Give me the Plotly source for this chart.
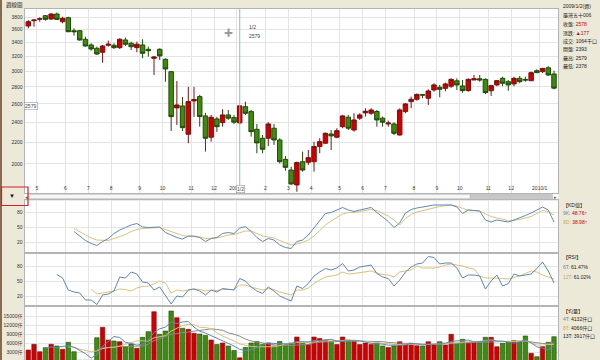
import math
import plotly.graph_objects as go

# ---------------- data (weekly, 2008/4/18 .. 2010/1/22) ----------------
opens = [3654, 3739, 3763, 3822, 3767, 3850, 3723, 3788, 3579, 3579,
         3448, 3363, 3315, 3258, 3359, 3359, 3324, 3437, 3388, 3324,
         3363, 3300, 3173, 3300, 3159, 2993, 2555, 2577, 2277, 2634,
         2684, 2467, 2248, 2435, 2396, 2478, 2449, 2393, 2569, 2514,
         2327, 2238, 2238, 2338, 2221, 2041, 1948, 1825, 2020, 2015,
         2020, 2158, 2190, 2280, 2248, 2354, 2453, 2320, 2443, 2500,
         2496, 2515, 2443, 2382, 2382, 2270, 2514, 2626, 2653, 2708,
         2665, 2763, 2796, 2783, 2809, 2876, 2812, 2755, 2886, 2902,
         2894, 2754, 2825, 2907, 2865, 2837, 2907, 2894, 2877, 3006,
         2993, 3044, 2963]
highs = [3750, 3761, 3795, 3833, 3862, 3872, 3805, 3805, 3618, 3590,
         3487, 3388, 3339, 3363, 3427, 3388, 3463, 3472, 3412, 3412,
         3448, 3339, 3206, 3315, 3173, 3002, 2874, 2680, 2800, 2800,
         2704, 2500, 2478, 2457, 2540, 2532, 2478, 2579, 2626, 2532,
         2382, 2270, 2400, 2382, 2238, 2071, 1977, 2021, 2111, 2126,
         2205, 2238, 2294, 2320, 2338, 2478, 2478, 2496, 2496, 2551,
         2551, 2532, 2460, 2417, 2400, 2551, 2608, 2684, 2722, 2710,
         2771, 2846, 2825, 2853, 2907, 2907, 2886, 2907, 2950, 2950,
         2907, 2825, 2886, 2928, 2886, 2928, 2937, 2928, 2993, 3024,
         3044, 3066, 3006]
lows = [3617, 3643, 3723, 3739, 3750, 3750, 3697, 3555, 3503, 3427,
        3338, 3280, 3219, 3113, 3339, 3305, 3305, 3348, 3290, 3258,
        3173, 3196, 2950, 3149, 2865, 2310, 2372, 2310, 2190, 2457,
        2354, 2111, 2205, 2301, 2354, 2424, 2382, 2378, 2478, 2254,
        2096, 2096, 2164, 2174, 2006, 1942, 1825, 1772, 1934, 1992,
        1934, 2096, 2185, 2126, 2238, 2338, 2320, 2303, 2424, 2460,
        2478, 2354, 2354, 2354, 2270, 2265, 2496, 2552, 2637, 2665,
        2588, 2743, 2677, 2747, 2788, 2763, 2730, 2743, 2886, 2865,
        2714, 2692, 2809, 2809, 2754, 2809, 2845, 2865, 2874, 2975,
        2975, 2937, 2771]
closes = [3723, 3750, 3770, 3761, 3850, 3761, 3778, 3564, 3564, 3437,
          3348, 3305, 3233, 3348, 3374, 3324, 3448, 3374, 3338, 3374,
          3243, 3280, 3191, 3206, 3028, 2460, 2588, 2344, 2626, 2651,
          2460, 2238, 2453, 2354, 2478, 2443, 2401, 2578, 2496, 2303,
          2193, 2133, 2382, 2221, 2020, 1971, 1833, 2012, 1948, 2056,
          2158, 2205, 2287, 2261, 2313, 2467, 2338, 2424, 2478, 2518,
          2532, 2424, 2400, 2392, 2287, 2532, 2600, 2653, 2710, 2702,
          2751, 2825, 2771, 2837, 2894, 2824, 2755, 2894, 2902, 2886,
          2731, 2816, 2878, 2845, 2825, 2907, 2865, 2886, 2980, 2980,
          3036, 2950, 2785]
volumes = [3667, 5567, 3100, 4433, 5567, 5000, 3900, 6233, 3100, 250,
           250, 250, 7767, 11233, 7000, 6667, 6433, 4767, 5667, 4233,
           7900, 9767, 16433, 8900, 10000, 16667, 14433, 10900, 10567, 9233,
           9000, 8500, 7000, 5500, 6000, 5000, 3500, 1064, 4500, 6000,
           6500, 5500, 6000, 5000, 6500, 5500, 6000, 8000, 6000, 5500,
           8000, 7500, 7000, 6500, 5500, 8000, 7000, 6500, 5500, 6000,
           5500, 6000, 5000, 4500, 5000, 6433, 5567, 5900, 5100, 5000,
           6433, 5567, 6433, 5333, 8900, 5900, 7233, 5900, 6433, 6100,
           7900, 7900, 4767, 5900, 6433, 6767, 6433, 8333, 2567, 1433,
           4767, 6233, 8100]

kd_start = 8
k9 = [42, 32, 24, 18, 14, 22, 28, 38, 45, 50, 55, 58, 51, 50, 50, 51, 40, 35, 30, 27,
      33, 33, 30, 22, 28, 30, 38, 40, 38, 49, 52, 42, 30, 22, 28, 25, 15, 10, 8, 22,
      25, 35, 50, 65, 78, 80, 85, 90, 85, 82, 85, 88, 90, 80, 70, 62, 50, 59, 79, 86,
      89, 91, 93, 95, 95, 95, 95, 91, 78, 85, 84, 83, 65, 61, 65, 63, 61, 65, 69, 74,
      79, 85, 91, 85, 61]
d9 = [48, 42, 35, 29, 25, 24, 24, 28, 32, 36, 42, 46, 48, 49, 50, 50, 46, 42, 37, 34,
      32, 32, 31, 28, 28, 29, 32, 35, 36, 39, 43, 43, 38, 33, 31, 29, 24, 19, 15, 17,
      20, 25, 33, 44, 55, 63, 70, 77, 80, 80, 82, 84, 86, 84, 79, 73, 65, 55, 68, 76,
      81, 84, 87, 89, 92, 94, 95, 93, 88, 85, 84, 83, 77, 72, 69, 67, 63, 64, 66, 69,
      72, 78, 84, 82, 75]

rsi6_start = 5
rsi6 = [63, 56, 32, 28, 26, 12, 12, 3, 22, 24, 30, 58, 56, 68, 64, 48, 46, 32, 38, 22,
        4, 20, 18, 32, 34, 30, 22, 32, 28, 35, 33, 32, 55, 50, 38, 30, 25, 38, 30, 20,
        15, 10, 40, 35, 45, 60, 68, 75, 72, 76, 85, 70, 72, 78, 80, 82, 65, 58, 55, 40,
        52, 68, 78, 84, 86, 99, 97, 84, 86, 86, 76, 56, 62, 62, 60, 34, 50, 62, 40, 45,
        64, 60, 62, 64, 75, 88, 70, 46]
rsi12_start = 11
rsi12 = [34, 24, 26, 28, 30, 34, 33, 30, 36, 39, 40, 44, 50, 46, 26, 32, 30, 32, 34, 33,
         30, 32, 31, 33, 33, 33, 42, 42, 38, 35, 32, 35, 33, 28, 25, 22, 32, 32, 36, 45,
         52, 58, 60, 62, 68, 64, 65, 67, 69, 70, 66, 63, 62, 58, 68, 70, 72, 80, 76, 76,
         76, 78, 82, 84, 82, 80, 76, 74, 60, 56, 56, 56, 55, 54, 57, 60, 65, 70, 68, 62,
         58, 54]

month_first_week = [2, 7, 11, 15, 20, 24, 29, 33, 37, 42, 46, 50, 55, 59, 63, 68, 72, 76, 81, 85, 90]
month_labels = ["5", "6", "7", "8", "9", "10", "11", "12", "2009/1", "2", "3", "4",
                "5", "6", "7", "8", "9", "10", "11", "12", "2010/1"]
price_ticks = [1800, 2000, 2200, 2400, 2600, 2800, 3000, 3200, 3400, 3600, 3800]
osc_ticks = [20, 50, 80]
vol_ticks = [3000, 6000, 9000, 12000, 15000]

cross_week = 37
cross_price = 2579

# ---------------- derived (moving averages of the volume) ----------------
def moving_avg(vals, n):
    out = [None] * len(vals)
    for i in range(n - 1, len(vals)):
        out[i] = sum(vals[i - n + 1:i + 1]) / n
    return out

vma4 = moving_avg(volumes, 4)
vma8 = moving_avg(volumes, 8)
vma13 = moving_avg(volumes, 13)

# ---------------- layout helpers ----------------
W, H = 600, 360
def px(x):
    return x / W
def py(y):
    return 1 - y / H

X0, X1 = 24.5, 558
MAIN = (9, 193)
KD = (200, 252)
RSI = (254, 305)
VOL = (307, 360)

n = len(closes)
xs = list(range(n))
tickpos = [w - 0.5 for w in month_first_week]
xrange_ = [-0.665, 92.7]

RED, RED_L = "#d10000", "#7a1010"
GRN, GRN_L = "#3d8c10", "#1f4a08"
BLUE, TAN, GRAY = "#5f88b2", "#d9c07c", "#8c8c8c"
GRID, FRAME = "#e4e4e4", "#b4b4b4"
FONT = "Liberation Sans, Noto Sans CJK TC, sans-serif"

fig = go.Figure()

fig.add_trace(go.Candlestick(
    x=xs, open=opens, high=highs, low=lows, close=closes,
    increasing=dict(fillcolor=RED, line=dict(color=RED_L, width=1)),
    decreasing=dict(fillcolor=GRN, line=dict(color=GRN_L, width=1)),
    whiskerwidth=0, xaxis="x", yaxis="y", showlegend=False, hoverinfo="skip"))

kx = xs[kd_start:kd_start + len(k9)]
fig.add_trace(go.Scatter(x=kx, y=d9, mode="lines", line=dict(color=TAN, width=1),
                         xaxis="x2", yaxis="y2", showlegend=False))
fig.add_trace(go.Scatter(x=kx, y=k9, mode="lines", line=dict(color=BLUE, width=1),
                         xaxis="x2", yaxis="y2", showlegend=False))

fig.add_trace(go.Scatter(x=xs[rsi12_start:rsi12_start + len(rsi12)], y=rsi12, mode="lines",
                         line=dict(color=TAN, width=1), xaxis="x3", yaxis="y3", showlegend=False))
fig.add_trace(go.Scatter(x=xs[rsi6_start:rsi6_start + len(rsi6)], y=rsi6, mode="lines",
                         line=dict(color=BLUE, width=1), xaxis="x3", yaxis="y3", showlegend=False))

vcol = [RED if c >= o else GRN for o, c in zip(opens, closes)]
vline = [RED_L if c >= o else GRN_L for o, c in zip(opens, closes)]
fig.add_trace(go.Bar(x=xs, y=volumes, marker=dict(color=vcol, line=dict(color=vline, width=0.6)),
                     width=0.78, xaxis="x4", yaxis="y4", showlegend=False))
fig.add_trace(go.Scatter(x=xs, y=vma13, mode="lines", line=dict(color=GRAY, width=1),
                         xaxis="x4", yaxis="y4", showlegend=False))
fig.add_trace(go.Scatter(x=xs, y=vma8, mode="lines", line=dict(color=TAN, width=1),
                         xaxis="x4", yaxis="y4", showlegend=False))
fig.add_trace(go.Scatter(x=xs, y=vma4, mode="lines", line=dict(color=BLUE, width=1),
                         xaxis="x4", yaxis="y4", showlegend=False))

def xax(show_labels, anchor):
    return dict(domain=[px(X0), px(X1)], range=xrange_, tickvals=tickpos,
                ticktext=month_labels, showgrid=True, gridcolor=GRID, gridwidth=1,
                zeroline=False, showline=True, linecolor=FRAME, mirror=True,
                ticks="", showticklabels=show_labels, anchor=anchor,
                rangeslider=dict(visible=False), fixedrange=True,
                tickfont=dict(size=5, color="#333", family=FONT))

def yax(dom, rng, tv, tt, typ="linear"):
    return dict(domain=[py(dom[1]), py(dom[0])], range=rng, type=typ, tickvals=tv,
                ticktext=tt, showgrid=True, gridcolor=GRID, gridwidth=1, zeroline=False,
                showline=True, linecolor=FRAME, mirror=True, ticks="", ticklen=0,
                tickfont=dict(size=5, color="#333", family=FONT), fixedrange=True)

main_top = 3800 * math.exp(8 / 229)
main_bot = 3800 * math.exp(-176 / 229)

layout = dict(
    width=W, height=H, margin=dict(l=0, r=0, t=0, b=0),
    paper_bgcolor="#ece9d8", plot_bgcolor="white", showlegend=False,
    bargap=0.2, boxgap=0.22, boxgroupgap=0, hovermode=False,
    xaxis=dict(xax(True, "y"), ticklabelposition="inside"),
    xaxis2=dict(xax(False, "y2"), matches="x"),
    xaxis3=dict(xax(False, "y3"), matches="x"),
    xaxis4=dict(xax(False, "y4"), matches="x"),
    yaxis=yax(MAIN, [math.log10(main_bot), math.log10(main_top)], price_ticks,
              [str(v) for v in price_ticks], "log"),
    yaxis2=yax(KD, [1, 105], osc_ticks, [str(v) for v in osc_ticks]),
    yaxis3=yax(RSI, [2, 104], osc_ticks, [str(v) for v in osc_ticks]),
    yaxis4=yax(VOL, [333, 18000], vol_ticks, [f"{v}仟" for v in vol_ticks]),
)
fig.update_layout(**layout)

shapes = []
def rect(x0, y0, x1, y1, fill, line=None, lw=0, layer="below"):
    shapes.append(dict(type="rect", xref="paper", yref="paper", x0=px(x0), x1=px(x1),
                       y0=py(y1), y1=py(y0), fillcolor=fill,
                       line=dict(color=line or fill, width=lw), layer=layer))

rect(X0, MAIN[0], X1, 360, "white")
rect(X0, 252, X1, 254, "#e2e2e2")
rect(X0, 305, X1, 307, "#e2e2e2")
rect(X0, 199.5, X1, 200.5, "#d8d8d8")
rect(29, 194.3, 552.5, 198.8, "#f7f7f7", "#bcbcbc", 0.8, "above")
rect(470, 194.8, 551.5, 198.3, "#c8c8c8", "#b4b4b4", 0.5, "above")
rect(0, 0, 2, 360, "#8a6a4e", layer="above")
rect(1.5, 187, 28, 205.5, "rgba(0,0,0,0)", "#d42020", 1.2, "above")

shapes.append(dict(type="line", xref="x", yref="paper", x0=cross_week, x1=cross_week,
                   y0=py(MAIN[1]), y1=py(MAIN[0]), line=dict(color="#8fbccd", width=1)))
shapes.append(dict(type="line", xref="paper", yref="y", x0=px(X0), x1=px(X1),
                   y0=math.log10(cross_price), y1=math.log10(cross_price),
                   line=dict(color="#8fbccd", width=1)))
fig.update_layout(shapes=shapes)

ann = []
def text(x, y, s, size=5, color="#222", anchor="left", **kw):
    ann.append(dict(xref="paper", yref="paper", x=px(x), y=py(y), text=s, showarrow=False,
                    xanchor=anchor, yanchor="middle", font=dict(size=size, color=color, family=FONT),
                    **kw))

text(4, 5, "週線圖", size=5.5)
text(560.5, 6.5, "2009/1/2(週)")
text(560.5, 15.5, "臺灣五十006")
text(560.5, 24.5, "收盤: <span style='color:#c00000'>2578</span>")
text(560.5, 33.3, "漲跌: <span style='color:#c00000'>▲177</span>")
text(560.5, 41.7, "成交: 1064千口")
text(560.5, 50, "開盤: 2393")
text(560.5, 58.3, "最高: 2579")
text(560.5, 66.7, "最低: 2378")
text(560.5, 205, "【KD值】")
text(560.5, 213.3, "<span style='color:#5f88b2'>9K:</span> <span style='color:#c00000'>48.76↑</span>")
text(560.5, 222.3, "<span style='color:#c8a860'>9D:</span> <span style='color:#c00000'>38.98↑</span>")
text(560.5, 256.7, "【RSI】")
text(560.5, 267.3, "<span style='color:#5f88b2'>6T:</span> 61.47%")
text(560.5, 276.7, "<span style='color:#c8a860'>12T:</span> 61.02%")
text(560.5, 311.7, "【均量】")
text(560.5, 319.3, "<span style='color:#5f88b2'>4T:</span> 4132仟口")
text(560.5, 328.3, "<span style='color:#c8a860'>8T:</span> 4066仟口")
text(560.5, 336.7, "13T: 3917仟口")
text(247, 27.5, "1/2", color="#444")
text(247, 36, "2579", color="#444")
text(228, 33, "✚", size=9, color="#9a9a9a", anchor="center")
text(30.5, 105.5, "2579", size=5, color="#444", anchor="center",
     bgcolor="white", bordercolor="#9a9a9a", borderwidth=0.6, borderpad=0.5)
text(240.5, 189, "1/2", size=5, color="#444", anchor="center",
     bgcolor="white", bordercolor="#9a9a9a", borderwidth=0.6, borderpad=0.5)
text(12, 196.5, "▼", size=6, color="#111", anchor="center")
text(26.5, 196.7, "◂", size=5, color="#555", anchor="center")
text(555, 196.7, "▸", size=5, color="#555", anchor="center")
fig.update_layout(annotations=ann)

fig.write_html("out.html", config={"displayModeBar": False, "staticPlot": True},
               post_script="document.body.style.margin='0';")
